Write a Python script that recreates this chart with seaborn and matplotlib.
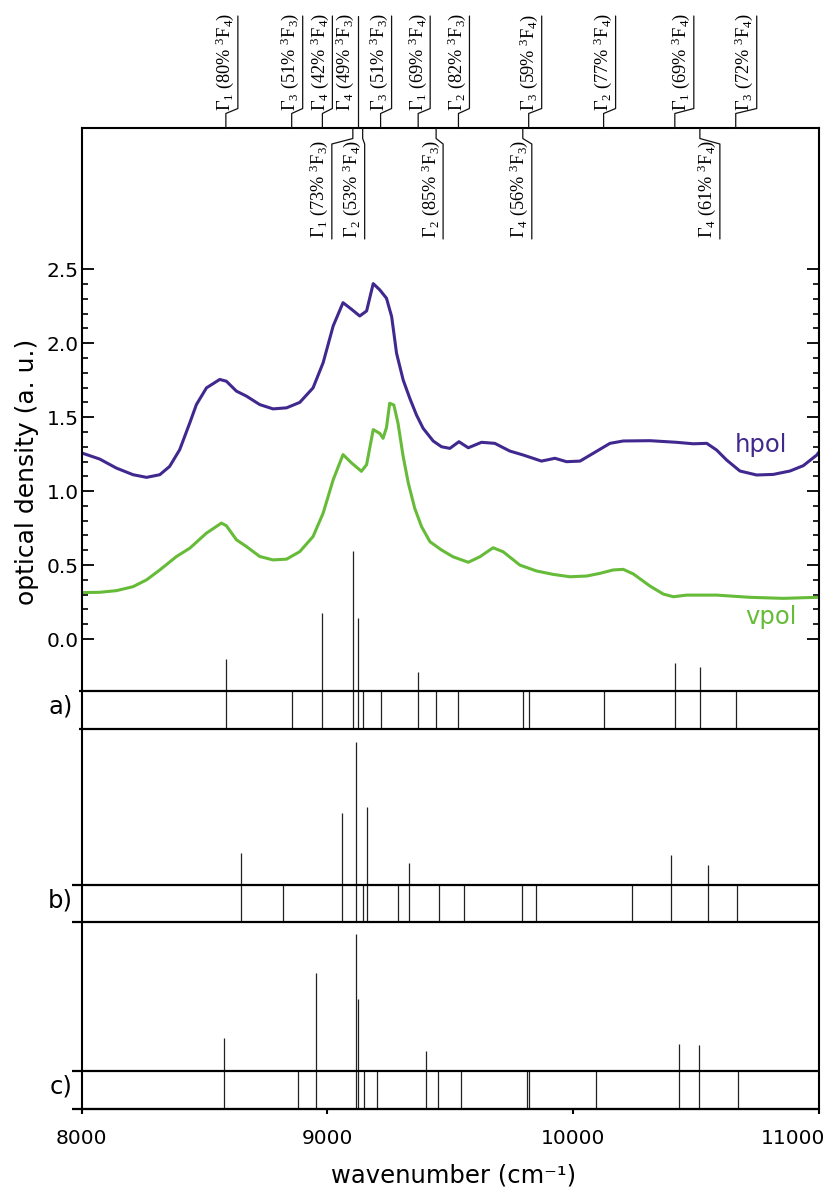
import numpy as np
import matplotlib
matplotlib.use("Agg")
import matplotlib.pyplot as plt
from matplotlib.lines import Line2D
from matplotlib.transforms import IdentityTransform, ScaledTranslation
from matplotlib.ticker import FixedLocator
import seaborn as sns

sns.set_style("ticks")
plt.rcParams["font.family"] = ["DejaVu Sans"]
plt.rcParams["mathtext.fontset"] = "custom"
plt.rcParams["mathtext.rm"] = "Liberation Serif"
plt.rcParams["mathtext.it"] = "Liberation Serif:italic"
plt.rcParams["mathtext.bf"] = "Liberation Serif:bold"
for key in ("text.color", "axes.labelcolor", "xtick.color", "ytick.color", "axes.edgecolor"):
    plt.rcParams[key] = "black"

# ---- measured absorption spectra (optical density) ----
hpol_wn = [8000, 8073, 8141, 8209, 8264, 8318, 8358, 8399, 8440, 8467,
           8508, 8562, 8589, 8630, 8671, 8725, 8779, 8834, 8888, 8942,
           8983, 9024, 9064, 9099, 9132, 9160, 9187, 9214, 9241, 9262,
           9282, 9309, 9336, 9363, 9390, 9431, 9465, 9499, 9536, 9574,
           9628, 9682, 9743, 9798, 9872, 9927, 9974, 10029, 10083, 10151,
           10205, 10314, 10422, 10490, 10545, 10585, 10626, 10680, 10748, 10816,
           10884, 10938, 10993, 11000]
hpol_od = [1.258, 1.217, 1.156, 1.111, 1.093, 1.111, 1.167, 1.28, 1.461, 1.585,
           1.698, 1.755, 1.743, 1.676, 1.642, 1.585, 1.556, 1.563, 1.60, 1.698,
           1.868, 2.117, 2.274, 2.229, 2.184, 2.218, 2.403, 2.36, 2.304, 2.18,
           1.932, 1.751, 1.627, 1.515, 1.425, 1.339, 1.30, 1.289, 1.334, 1.293,
           1.33, 1.323, 1.271, 1.244, 1.203, 1.222, 1.199, 1.203, 1.256, 1.323,
           1.339, 1.341, 1.33, 1.32, 1.323, 1.278, 1.21, 1.136, 1.109, 1.113,
           1.136, 1.172, 1.244, 1.26]

vpol_wn = [8000, 8073, 8141, 8209, 8264, 8318, 8386, 8440, 8508, 8569,
           8589, 8630, 8671, 8725, 8779, 8834, 8888, 8942, 8983, 9024,
           9064, 9099, 9139, 9160, 9187, 9214, 9227, 9241, 9254, 9271,
           9288, 9309, 9330, 9356, 9384, 9418, 9465, 9512, 9574, 9621,
           9675, 9716, 9784, 9852, 9920, 9988, 10056, 10110, 10164, 10205,
           10246, 10314, 10368, 10409, 10463, 10585, 10721, 10857, 10993, 11000]
vpol_od = [0.314, 0.316, 0.327, 0.354, 0.40, 0.467, 0.558, 0.614, 0.716, 0.784,
           0.766, 0.671, 0.625, 0.558, 0.535, 0.54, 0.591, 0.693, 0.851, 1.077,
           1.247, 1.19, 1.134, 1.179, 1.416, 1.39, 1.357, 1.43, 1.594, 1.582,
           1.458, 1.233, 1.053, 0.884, 0.759, 0.658, 0.602, 0.556, 0.519, 0.556,
           0.617, 0.59, 0.50, 0.46, 0.437, 0.421, 0.426, 0.444, 0.467, 0.471,
           0.44, 0.358, 0.304, 0.286, 0.297, 0.297, 0.282, 0.275, 0.282, 0.283]

# ---- calculated crystal-field levels (cm-1) and line strengths ----
levels_a = [8587, 8855, 8980, 9104, 9123, 9144, 9217, 9370,
            9443, 9534, 9796, 9820, 10125, 10415, 10517, 10663]
intens_a = [0.216, 0, 0.521, 0.94, 0.49, 0, 0, 0.128,
            0, 0, 0, 0, 0, 0.189, 0.162, 0]

levels_b = [8649, 8819, 9059, 9117, 9146, 9160, 9288, 9331,
            9454, 9555, 9792, 9850, 10242, 10401, 10551, 10668]
intens_b = [0.214, 0, 0.487, 0.967, 0, 0.525, 0, 0.149,
            0, 0, 0, 0, 0, 0.203, 0.135, 0]

levels_c = [8580, 8881, 8956, 9115, 9123, 9150, 9204, 9402,
            9452, 9544, 9813, 9820, 10093, 10433, 10514, 10672]
intens_c = [0.223, 0, 0.663, 0.922, 0.485, 0, 0, 0.133,
            0, 0, 0, 0, 0, 0.181, 0.176, 0]

# assignment of the model a) levels: irrep, dominant term share, J of 3F_J
irrep = [1, 3, 4, 1, 4, 2, 3, 1, 2, 2, 4, 3, 2, 1, 4, 3]
share = [80, 51, 42, 73, 49, 53, 51, 69, 85, 82, 56, 59, 77, 69, 61, 72]
term_j = [4, 3, 4, 3, 3, 4, 3, 4, 3, 3, 3, 4, 4, 4, 4, 4]
label_up = [True, True, True, False, True, False, True, True,
            False, True, False, True, True, True, False, True]

# horizontal kink of each label leader (pixels)
leader_shift = [12, 11, 10, -21, 0, 2, 11, 12, 7, 11, 9, 13, 12, 19, 20, 21]

HPOL_C = "#41288f"
VPOL_C = "#66bb38"

W, H = 825, 1189
fig = plt.figure(figsize=(W / 100, H / 100), dpi=100)
ax = fig.add_axes([81.7 / W, (H - 1108.5) / H, (818.5 - 81.7) / W, 980.5 / H])

sns.lineplot(x=hpol_wn, y=hpol_od, ax=ax, color=HPOL_C, linewidth=2.2,
             estimator=None, sort=False)
sns.lineplot(x=vpol_wn, y=vpol_od, ax=ax, color=VPOL_C, linewidth=2.2,
             estimator=None, sort=False)

ax.set_xlim(8000, 11000)
ax.set_ylim(-3.174, 3.455)

ax.text(10766, 1.31, "hpol", color=HPOL_C, fontsize=17.5, ha="center", va="center")
ax.text(10808, 0.15, "vpol", color=VPOL_C, fontsize=17.5, ha="center", va="center")

# stick spectra with level bands
bands = [(-0.348, -0.605, levels_a, intens_a, "a)", 7990),
         (-1.660, -1.910, levels_b, intens_b, "b)", 7960),
         (-2.918, -3.174, levels_c, intens_c, "c)", 7960)]
for top, bot, lev, inten, tag, x_left in bands:
    for y in (top, bot):
        ax.plot([x_left, 11000], [y, y], color="black", lw=1.6,
                clip_on=False, solid_capstyle="butt", zorder=4)
    ax.vlines(lev, bot, top, color="#222222", lw=0.9, zorder=3)
    st = [(l, i) for l, i in zip(lev, inten) if i > 0]
    ax.vlines([s[0] for s in st], top, [top + s[1] for s in st],
              color="#222222", lw=0.9, zorder=3)
    ax.text(-0.012, (top + bot) / 2 + 0.02, tag, transform=ax.get_yaxis_transform(),
            ha="right", va="center", fontsize=17.5)

# axes styling
for sp in ax.spines.values():
    sp.set_linewidth(1.5)
    sp.set_visible(True)
ax.set_yticks(np.arange(0, 2.51, 0.5))
ax.yaxis.set_minor_locator(FixedLocator(np.arange(0, 2.51, 0.1)))
ax.set_yticklabels([f"{v:.1f}" for v in np.arange(0, 2.51, 0.5)])
ax.tick_params(axis="y", which="both", direction="in", left=True, right=True,
               labelsize=14.5, pad=2)
ax.tick_params(axis="y", which="major", length=8.5, width=1.3)
ax.tick_params(axis="y", which="minor", length=4.5, width=1.2)
ax.set_xticks([8000, 9000, 10000, 11000])
ax.tick_params(axis="x", which="both", direction="out", bottom=True, top=False,
               length=3.5, width=1.5, labelsize=14.5, pad=11)
# keep the last wavenumber label inside the figure edge
last = ax.get_xticklabels()[-1]
last.set_horizontalalignment("right")
last.set_transform(last.get_transform() + ScaledTranslation(0.065, 0, fig.dpi_scale_trans))

ax.set_ylabel("optical density (a. u.)", fontsize=18)
ax.yaxis.set_label_coords(-0.0575, 0.649)
ax.set_xlabel("wavenumber (cm\u207b\u00b9)", fontsize=17.5)
ax.xaxis.set_label_coords(0.505, -0.0556)

# level assignments with leaders on the top axis
fig.canvas.draw()
for lev, g, pct, j, up, dx in zip(levels_a, irrep, share, term_j, label_up, leader_shift):
    xt = ax.transData.transform((lev, 0))[0]
    xl = xt + dx
    if up:
        ys = [128, 113.5, 108.5, 16]
        anchor_y = 111
    else:
        ys = [128, 138.5, 144, 239]
        anchor_y = 238
    fig.add_artist(Line2D([xt, xt, xl, xl], [H - y for y in ys], lw=0.9,
                          color="#111111", transform=IdentityTransform()))
    txt = "\u0393$_{%d}$ (%d%% $^{3}$F$_{%d}$)" % (g, pct, j)
    fig.text((xl - 1.5) / W, (H - anchor_y) / H, txt, rotation=90,
             rotation_mode="anchor", ha="left", va="bottom",
             family="Liberation Serif", fontsize=13.2)

fig.savefig("out.png", dpi=100)
